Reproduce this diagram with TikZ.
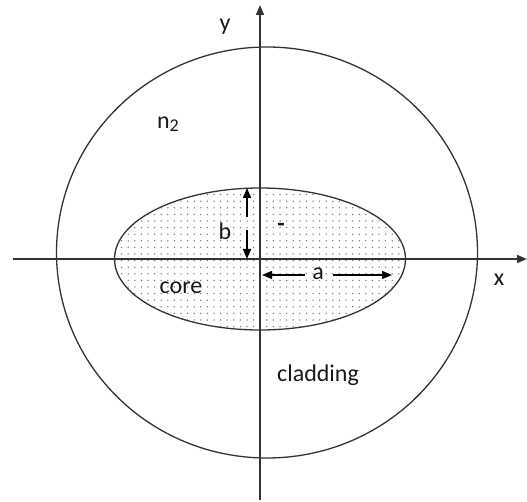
\documentclass[tikz,border=0pt]{standalone}
\usepackage{fontspec}
\setmainfont{Carlito}
\usetikzlibrary{arrows.meta}
\begin{document}
\begin{tikzpicture}[x=1pt,y=-1pt,
  axis/.style={draw=black!80, line width=1.7pt, -{Triangle[length=10pt,width=8pt]}},
  outline/.style={draw=black!80, line width=1.3pt},
  dimarrow/.style={draw=black, line width=1.4pt, -{Triangle[length=10pt,width=8pt]}},
  lbl/.style={font=\fontsize{24}{28}\selectfont, text=black!90, inner sep=0pt},
  dotfill/.style={fill=black!55}]
\useasboundingbox (0,0) rectangle (527,502);
% axes end points
\coordinate (O) at (260,259);
\coordinate (xs) at (13,259);
\coordinate (xe) at (527,259);
\coordinate (ys) at (260,500);
\coordinate (ye) at (260,5);
% dotted core
\begin{scope}
  \clip (O) ellipse [x radius=145.5, y radius=71];
  \foreach \i in {0,...,45}
    \foreach \j in {0,...,22}
      \fill[dotfill] (115+6.6*\i, 188+6.6*\j) circle (0.75);
\end{scope}
% cladding and core outlines
\draw[outline] (267,252.5) ellipse [x radius=210.5, y radius=205.5];
\draw[outline] (O) ellipse [x radius=145.5, y radius=71];
% axes
\draw[axis] (xs) -- (xe);
\draw[axis] (ys) -- (ye);
% b dimension
\coordinate (btop) at (247,188);
\coordinate (bbot) at (247,259);
\coordinate (bg1) at (247,217);
\coordinate (bg2) at (247,230);
\draw[dimarrow] (bg1) -- (btop);
\draw[dimarrow] (bg2) -- (bbot);
% a dimension
\coordinate (aleft) at (262,275);
\coordinate (aright) at (392,275);
\coordinate (ag1) at (305,275);
\coordinate (ag2) at (333,275);
\draw[dimarrow] (ag1) -- (aleft);
\draw[dimarrow] (ag2) -- (aright);
% labels
\node[lbl] (ylab) at (225,27) {y};
\node[lbl] (xlab) at (499,280) {x};
\node[lbl] (n2) at (168,124) {n\raisebox{-0.3ex}{\fontsize{18}{18}\selectfont 2}};
\node[lbl] (blab) at (225,231) {b};
\node[lbl] (alab) at (318,274) {a};
\node[lbl, font=\fontsize{24}{28}\bfseries] (dash) at (281,227) {-};
\node[lbl] (core) at (181,288) {core};
\node[lbl] (clad) at (318,375) {cladding};
\end{tikzpicture}
\end{document}
